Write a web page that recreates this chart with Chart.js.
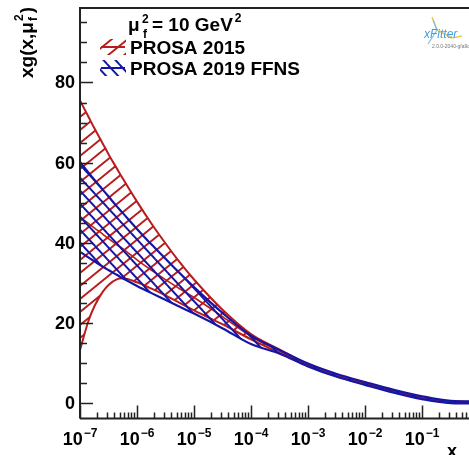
<!DOCTYPE html>
<html><head><meta charset="utf-8">
<script src="https://cdn.jsdelivr.net/npm/chart.js@4.4.1/dist/chart.umd.min.js"></script>
<style>
html,body{margin:0;padding:0;overflow:hidden;background:#fff;width:469px;height:455px}
canvas{display:block}
</style></head>
<body><canvas id="c" width="520" height="455"></canvas>
<script>
// ---- data (x = Bjorken x, y = xg(x, mu_f^2)) ----
const xValues   = [1e-7, 1.4e-7, 1.8e-7, 2.5e-7, 3.2e-7, 4.5e-7, 5.6e-7, 1e-6, 1.8e-6, 3.2e-6, 5.6e-6, 1e-5, 3.2e-5, 1e-4, 3.2e-4, 1e-3, 3.2e-3, 1e-2, 3.2e-2, 0.1, 0.32, 1];
const redUpper  = [75.5, 71.5, 68.5, 64.8, 62.0, 58.4, 56.1, 50.3, 44.8, 39.8, 35.2, 30.9, 23.3, 17.3, 13.4, 9.8, 7.2, 5.2, 3.25, 1.65, 0.5, 0.4];
const redLower  = [13.3, 20.5, 24.3, 27.8, 29.6, 31.0, 31.2, 30.2, 28.6, 26.9, 25.1, 23.2, 19.7, 16.0, 12.6, 9.4, 6.8, 4.8, 2.85, 1.25, 0.2, 0.1];
const redCentral= [46.5, 44.9, 43.7, 42.2, 41.0, 39.5, 38.6, 35.8, 33.2, 30.8, 28.6, 26.4, 21.6, 16.7, 13.0, 9.6, 7.0, 5.0, 3.05, 1.45, 0.35, 0.25];
const blueUpper = [60.2, 57.6, 55.7, 53.3, 51.5, 49.0, 47.5, 43.5, 39.6, 36.0, 32.5, 29.0, 22.5, 16.9, 13.3, 9.95, 7.35, 5.35, 3.4, 1.8, 0.65, 0.5];
const blueLower = [37.8, 36.4, 35.4, 34.1, 33.2, 32.0, 31.2, 29.3, 27.5, 25.8, 24.1, 22.4, 18.7, 14.8, 12.4, 9.25, 6.65, 4.65, 2.7, 1.1, 0.1, 0.0];

const seriesLabels = ['PROSA 2015', 'PROSA 2019 FFNS'];
const yTickLabels  = [0, 20, 40, 60, 80];
const xTickExponents = [-7, -6, -5, -4, -3, -2, -1];

const RED = 'rgb(185,28,28)';
const BLUE = 'rgb(22,22,165)';
const FONT = '"Liberation Sans", Arial, Helvetica, sans-serif';

function makeHatch(color, w, h, dir, lw) {
  const c = document.createElement('canvas');
  c.width = w; c.height = h;
  const g = c.getContext('2d');
  g.strokeStyle = color; g.lineWidth = lw;
  for (let k = -1; k <= 2; k++) {
    g.beginPath();
    if (dir === '/') { g.moveTo(k*w + w, -h); g.lineTo(k*w - 2*w, 2*h); }
    else { g.moveTo(k*w - w, -h); g.lineTo(k*w + 2*w, 2*h); }
    g.stroke();
  }
  return document.getElementById('c').getContext('2d').createPattern(c, 'repeat');
}
const redHatch = makeHatch(RED, 16, 13, '/', 1.9);
const blueHatch = makeHatch(BLUE, 12, 13, '\\', 1.9);

const pts = arr => xValues.map((x, i) => ({x, y: arr[i]}));
const lineDs = (label, arr, color, extra) => Object.assign({
  label, data: pts(arr), borderColor: color, borderWidth: 2, pointRadius: 0,
  cubicInterpolationMode: 'monotone', fill: false
}, extra || {});

const axesPlugin = {
  id: 'rootAxes',
  afterDatasetsDraw(chart) {
    const {ctx, chartArea: a, scales: {x, y}} = chart;
    ctx.save();
    ctx.strokeStyle = '#222'; ctx.lineWidth = 2; ctx.lineCap = 'butt';
    ctx.beginPath();
    ctx.moveTo(a.left, a.bottom); ctx.lineTo(a.left, a.top); ctx.lineTo(a.right, a.top);
    ctx.moveTo(a.left, a.bottom); ctx.lineTo(a.right, a.bottom); ctx.lineTo(a.right, a.top);
    ctx.stroke();
    ctx.lineWidth = 1.5;
    ctx.beginPath();
    for (let v = 0; v <= y.max; v += 5) {
      const py = Math.round(y.getPixelForValue(v)) + 0.5;
      const len = (v % 20 === 0) ? 13 : 7;
      ctx.moveTo(a.left, py); ctx.lineTo(a.left + len, py);
    }
    for (let e = -7; e <= 0; e++) {
      for (let k = 1; k <= 9; k++) {
        if (e === 0 && k > 1) break;
        const v = k * Math.pow(10, e);
        const px = Math.round(x.getPixelForValue(v)) + 0.5;
        const len = (k === 1) ? 13 : 6;
        ctx.moveTo(px, a.bottom); ctx.lineTo(px, a.bottom - len);
      }
    }
    ctx.stroke();
    ctx.fillStyle = '#000';
    ctx.font = 'bold 18px ' + FONT;
    ctx.textAlign = 'right'; ctx.textBaseline = 'middle';
    yTickLabels.forEach(v => ctx.fillText(String(v), a.left - 5, y.getPixelForValue(v) + 1));
    ctx.textAlign = 'left'; ctx.textBaseline = 'alphabetic';
    xTickExponents.forEach(e => {
      const px = x.getPixelForValue(Math.pow(10, e));
      const exp = '\u2212' + Math.abs(e);
      ctx.font = 'bold 18px ' + FONT;
      const w10 = ctx.measureText('10').width;
      ctx.font = 'bold 12px ' + FONT;
      const we = ctx.measureText(exp).width;
      const x0 = px - (w10 + 1 + we) / 2;
      ctx.font = 'bold 18px ' + FONT;
      ctx.fillText('10', x0, 445);
      ctx.font = 'bold 12px ' + FONT;
      ctx.fillText(exp, x0 + w10 + 1, 437);
    });
    ctx.font = 'bold 18px ' + FONT;
    ctx.textAlign = 'center';
    ctx.fillText('x', 452, 457);
    ctx.save();
    ctx.translate(33, 78);
    ctx.rotate(-Math.PI / 2);
    ctx.textAlign = 'left';
    ctx.font = 'bold 19px ' + FONT;
    const t1 = 'xg(x,\u03bc';
    ctx.fillText(t1, 0, 0);
    let w = ctx.measureText(t1).width;
    ctx.font = 'bold 12px ' + FONT;
    ctx.fillText('f', w + 1, 4);
    ctx.fillText('2', w + 1, -10);
    w += 1 + ctx.measureText('2').width + 1;
    ctx.font = 'bold 19px ' + FONT;
    ctx.fillText(')', w, 0);
    ctx.restore();
    ctx.textAlign = 'left';
    ctx.font = 'bold 19px ' + FONT;
    ctx.fillText('\u03bc', 128, 31);
    ctx.font = 'bold 12px ' + FONT;
    ctx.fillText('f', 143, 38);
    ctx.fillText('2', 142, 23);
    ctx.font = 'bold 19px ' + FONT;
    const hdr = '= 10 GeV';
    ctx.fillText(hdr, 152, 31);
    const hw = ctx.measureText(hdr).width;
    ctx.font = 'bold 12px ' + FONT;
    ctx.fillText('2', 152 + hw + 2, 22);
    const entries = [
      {label: seriesLabels[0], color: RED, pat: redHatch, y: 47},
      {label: seriesLabels[1], color: BLUE, pat: blueHatch, y: 68}
    ];
    entries.forEach(en => {
      ctx.save();
      ctx.beginPath(); ctx.rect(100, en.y - 8, 26, 16); ctx.clip();
      ctx.fillStyle = en.pat; ctx.fillRect(100, en.y - 8, 26, 16);
      ctx.restore();
      ctx.strokeStyle = en.color; ctx.lineWidth = 2;
      ctx.beginPath(); ctx.moveTo(101, en.y); ctx.lineTo(125, en.y); ctx.stroke();
      ctx.fillStyle = '#000';
      ctx.font = 'bold 19px ' + FONT;
      ctx.fillText(en.label, 130, en.y + 6.5);
    });
    ctx.strokeStyle = '#f2c94c'; ctx.lineWidth = 1.5;
    ctx.beginPath(); ctx.moveTo(432, 17); ctx.lineTo(437, 30); ctx.lineTo(452, 38); ctx.lineTo(462, 36); ctx.stroke();
    ctx.strokeStyle = '#7cc0ec'; ctx.lineWidth = 1.2;
    ctx.beginPath(); ctx.moveTo(437, 30); ctx.lineTo(428, 44); ctx.moveTo(437, 30); ctx.lineTo(433, 20); ctx.stroke();
    ctx.fillStyle = '#3f9fe0';
    ctx.font = 'italic 12px ' + FONT;
    ctx.fillText('xFitter', 424, 38);
    ctx.fillStyle = '#777';
    ctx.font = '5px ' + FONT;
    ctx.fillText('2.0.0-2040-gfa9c', 432, 48);
    ctx.restore();
  }
};

new Chart(document.getElementById('c'), {
  type: 'line',
  data: {
    datasets: [
      lineDs(seriesLabels[0] + ' up', redUpper, RED, {fill: 1, backgroundColor: redHatch, order: 2}),
      lineDs(seriesLabels[0] + ' low', redLower, RED, {order: 2}),
      lineDs(seriesLabels[0] + ' central', redCentral, RED, {borderWidth: 1.6, order: 2}),
      lineDs(seriesLabels[1] + ' up', blueUpper, BLUE, {fill: 4, backgroundColor: blueHatch, order: 1, borderWidth: 2.2}),
      lineDs(seriesLabels[1] + ' low', blueLower, BLUE, {order: 1, borderWidth: 2.2})
    ]
  },
  options: {
    responsive: false,
    animation: false,
    events: [],
    layout: {padding: {left: 80, right: 41, top: 8, bottom: 36.5}},
    plugins: {legend: {display: false}, tooltip: {enabled: false}, filler: {propagate: false}},
    scales: {
      x: {type: 'logarithmic', min: 1e-7, max: 1, display: false},
      y: {type: 'linear', min: -3.74, max: 98.55, display: false}
    }
  },
  plugins: [axesPlugin]
});
</script>
</body></html>
